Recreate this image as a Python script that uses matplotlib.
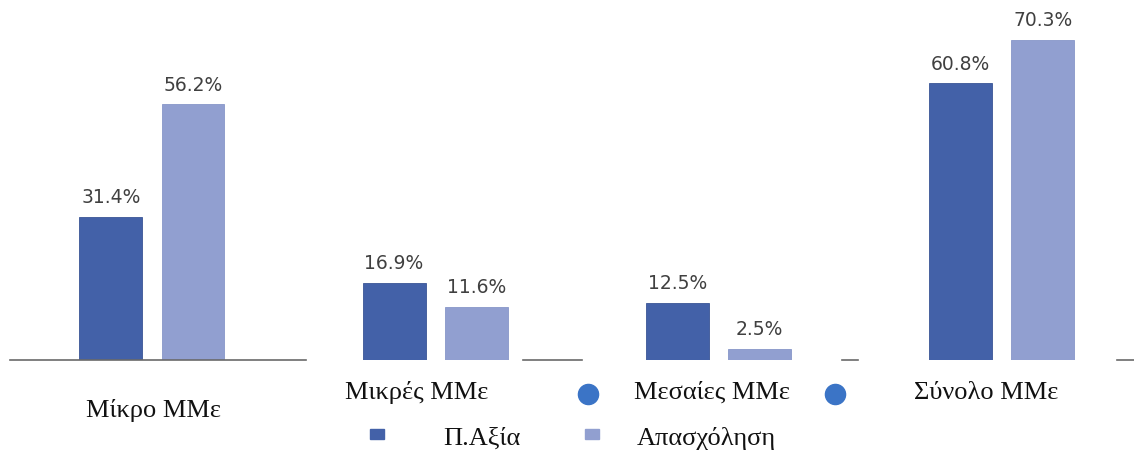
import matplotlib
matplotlib.use("Agg")
import matplotlib.pyplot as plt
import numpy as np
from matplotlib.lines import Line2D
from matplotlib.patches import Rectangle

# data
categories = ['Μίκρο ΜΜε', 'Μικρές ΜΜε', 'Μεσαίες ΜΜε', 'Σύνολο ΜΜε']
value_added = [31.4, 16.9, 12.5, 60.8]   # Π.Αξία
employment = [56.2, 11.6, 2.5, 70.3]     # Απασχόληση
series_names = ['Π.Αξία', 'Απασχόληση']

DARK = '#4361a8'
LIGHT = '#919fd0'
DOT = '#3b74c6'
SERIF = 'Liberation Serif'
W, H = 1134, 450

fig = plt.figure(figsize=(11.34, 4.5), dpi=100)
ax = fig.add_axes([10 / W, 90 / H, 1124 / W, 360 / H])

x = np.arange(len(categories))
w = 0.222
b1 = ax.bar(x - 0.145, value_added, w, color=DARK, edgecolor='#3a5596', linewidth=0.6)
b2 = ax.bar(x + 0.145, employment, w, color=LIGHT, edgecolor='#8797c9', linewidth=0.6)

for bars, vals in ((b1, value_added), (b2, employment)):
    for r, v in zip(bars, vals):
        ax.annotate('%.1f%%' % v, (r.get_x() + r.get_width() / 2, v),
                    xytext=(0, 7), textcoords='offset points', ha='center', va='bottom',
                    fontsize=13.5, color='#404040')

ax.set_xlim(-0.501, 3.467)
ax.set_ylim(0, 79.1)
for s in ax.spines.values():
    s.set_visible(False)
ax.set_xticks([])
ax.set_yticks([])

def fx(px):
    return px / W

def fy(py):
    return 1 - py / H

# baseline, broken where the label boxes sit over it (px)
for x0, x1 in [(10, 306), (523, 582), (842, 858), (1117, 1134)]:
    fig.add_artist(Line2D([fx(x0), fx(x1)], [fy(360), fy(360)], color='#6a6a6a',
                          linewidth=1.2, transform=fig.transFigure))

# category labels (placed like the original, a bit scattered); baseline in px
lab_pos = [(153, 417), (417, 399), (712, 399), (986, 399)]
for name, (px, py) in zip(categories, lab_pos):
    fig.text(fx(px), fy(py), name, ha='center', va='baseline',
             fontsize=19, family=SERIF, color='#111111')

# stray round markers between labels
for px in (588, 835):
    fig.add_artist(Line2D([fx(px)], [fy(394)], marker='o', markersize=14.5,
                          color=DOT, linestyle='none', transform=fig.transFigure))

# legend
leg_pos = [(377, 482), (592, 706)]
for name, col, (mx, tx) in zip(series_names, [DARK, LIGHT], leg_pos):
    fig.add_artist(Rectangle((fx(mx - 7), fy(439)), 14 / W, 10 / H,
                             color=col, transform=fig.transFigure))
    fig.text(fx(tx), fy(445), name, ha='center', va='baseline',
             fontsize=19, family=SERIF, color='#111111')

fig.savefig('out.png', dpi=100)
